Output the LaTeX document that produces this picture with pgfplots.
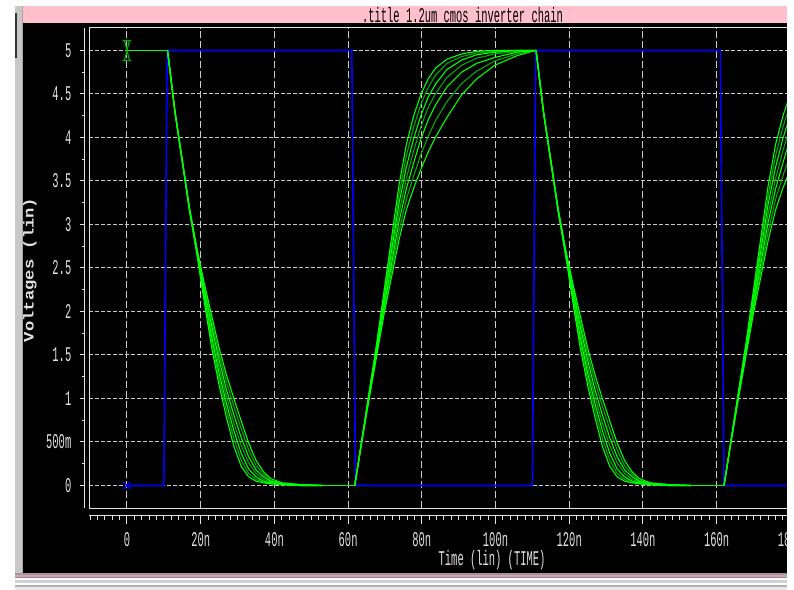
\documentclass[border=0pt]{standalone}
\usepackage{pgfplots}
\pgfplotsset{compat=1.18}
\usepackage{pgfplotstable}
\usepackage{graphicx}
\usepackage{fontspec}
\setmainfont{Liberation Mono}
\newfontfamily\wavefont{Liberation Mono}

\definecolor{pinkbar}{RGB}{255,192,203}
\definecolor{pinkline}{RGB}{225,160,170}
\definecolor{gridgray}{RGB}{200,200,200}
\definecolor{axgray}{RGB}{225,225,225}
\definecolor{trblue}{RGB}{0,0,255}
\definecolor{trgreen}{RGB}{0,255,0}
\definecolor{trgreendk}{RGB}{0,170,0}
\definecolor{frame}{RGB}{200,200,200}

% narrow viewer font
\newcommand\nt[1]{\scalebox{0.5}[1]{\fontsize{21}{21}\selectfont\wavefont #1}}
\newcommand\yt[1]{\scalebox{1.19}[1]{\fontsize{14.5}{14.5}\selectfont\wavefont\bfseries #1}}

\pgfdeclareplotmark{hourglass}{%
  \pgfpathmoveto{\pgfqpoint{-4.5bp}{10bp}}\pgfpathlineto{\pgfqpoint{4.5bp}{10bp}}%
  \pgfpathmoveto{\pgfqpoint{-4.5bp}{-10bp}}\pgfpathlineto{\pgfqpoint{4.5bp}{-10bp}}%
  \pgfpathmoveto{\pgfqpoint{-2.5bp}{10bp}}\pgfpathlineto{\pgfqpoint{2.5bp}{-10bp}}%
  \pgfpathmoveto{\pgfqpoint{2.5bp}{10bp}}\pgfpathlineto{\pgfqpoint{-2.5bp}{-10bp}}%
  \pgfusepathqstroke}

% falling edges of the chain outputs, time measured from the start of the edge (ns)
\pgfplotstableread{
dt F1 F2 F3 F4 F5 F6 F7
0  5 5 5 5 5 5 5
1  4.65 4.65 4.65 4.65 4.65 4.65 4.65
2  4.30 4.30 4.30 4.30 4.30 4.30 4.30
4  3.72 3.72 3.73 3.73 3.73 3.74 3.74
6  3.15 3.15 3.16 3.16 3.17 3.17 3.18
8  2.65 2.66 2.67 2.68 2.69 2.71 2.72
10 2.10 2.14 2.17 2.21 2.25 2.28 2.32
12 1.58 1.64 1.70 1.77 1.83 1.89 1.95
14 1.15 1.22 1.29 1.36 1.44 1.51 1.58
16 0.78 0.86 0.94 1.02 1.10 1.19 1.27
18 0.45 0.54 0.63 0.72 0.81 0.91 1.00
20 0.22 0.29 0.37 0.46 0.55 0.65 0.74
22 0.10 0.14 0.19 0.26 0.33 0.41 0.49
24 0.05 0.07 0.10 0.14 0.18 0.23 0.29
26 0.03 0.04 0.05 0.07 0.10 0.13 0.16
28 0.02 0.02 0.03 0.04 0.05 0.06 0.08
31 0.01 0.01 0.01 0.02 0.02 0.03 0.03
36 0 0 0 0.01 0.01 0.01 0.01
42 0 0 0 0 0 0 0
}\falltab

% rising edges
\pgfplotstableread{
dt R1 R2 R3 R4 R5 R6 R7
0  0 0 0 0 0 0 0
2  0.55 0.55 0.54 0.54 0.53 0.53 0.52
4  1.10 1.09 1.08 1.06 1.05 1.03 1.02
6  1.65 1.62 1.59 1.57 1.55 1.52 1.50
8  2.25 2.20 2.15 2.10 2.06 2.02 1.98
10 2.85 2.78 2.70 2.62 2.55 2.47 2.40
12 3.45 3.34 3.24 3.13 3.03 2.92 2.82
14 3.92 3.79 3.66 3.53 3.41 3.29 3.17
16 4.25 4.12 3.99 3.85 3.71 3.56 3.42
18 4.50 4.39 4.26 4.13 3.99 3.81 3.64
20 4.68 4.58 4.47 4.35 4.21 4.02 3.84
22 4.80 4.72 4.62 4.51 4.38 4.20 4.01
25 4.90 4.85 4.78 4.69 4.58 4.41 4.23
29 4.96 4.93 4.89 4.83 4.75 4.62 4.49
33 4.99 4.97 4.95 4.91 4.85 4.76 4.67
38 5 4.99 4.98 4.96 4.92 4.88 4.83
44 5 5 5 4.99 4.98 4.96 4.94
49 5 5 5 5 5 5 5
}\risetab

\begin{document}
\begin{tikzpicture}[x=1bp,y=1bp]
\useasboundingbox (0,0) rectangle (794,590);
% window frame
\fill[white] (0,0) rectangle (794,590);
\fill[frame] (15,16.5) rectangle (23.3,584);
\fill[black!35] (21.6,16.5) rectangle (23.3,584);
\fill[black!80] (15,532) rectangle (16.7,577);
\fill[black] (23.3,16.5) rectangle (786.7,566.7);
\fill[pinkbar] (23.3,566.7) rectangle (786.7,584);
\fill[black!40] (15,14.7) rectangle (786.7,16.5);
\fill[pinkline] (15,12.7) rectangle (786.7,14.7);
\fill[black!45] (15,11.7) rectangle (786.7,12.7);
\fill[black!18] (15,7) rectangle (786.7,10);
\fill[black!30] (15,3) rectangle (786.7,4.5);
\fill[black!8] (15,0) rectangle (786.7,3);

% plot area with grid and traces
\begin{axis}[
  at={(89bp,81.7bp)}, anchor=south west,
  scale only axis, width=708.7bp, height=480.6bp,
  xmin=-10.31, xmax=182, ymin=-0.262, ymax=5.262,
  axis line style={axgray, line width=1bp},
  xtick={0,20,...,180}, ytick={0,0.5,...,5},
  xticklabels={}, yticklabels={},
  major tick length=0pt,
  grid=major,
  x grid style={gridgray, line width=1bp, dash pattern=on 7bp off 3bp},
  y grid style={gridgray, line width=1bp, dash pattern=on 4bp off 2bp},
]
\addplot[trblue, line width=1.6bp] coordinates {
  (0,0) (10,0) (10.9,5) (61,5) (62,0) (110,0) (110.9,5) (161,5) (162,0) (185,0)};
\addplot[trgreen, line width=1.2bp] coordinates {(0,5) (11,5)};
\addplot[trgreen, line width=1.2bp] coordinates {(53,0) (61.8,0)};
\addplot[trgreen, line width=1.2bp] coordinates {(153,0) (162,0)};
\pgfplotsinvokeforeach{2,4,6}{
  \addplot[trgreendk, line width=1.1bp] table[x expr=\thisrow{dt}+11, y=F#1] {\falltab};
  \addplot[trgreendk, line width=1.1bp] table[x expr=\thisrow{dt}+111, y=F#1] {\falltab};
  \addplot[trgreendk, line width=1.1bp] table[x expr=\thisrow{dt}+61.8, y=R#1] {\risetab};
  \addplot[trgreendk, line width=1.1bp] table[x expr=\thisrow{dt}+162, y=R#1] {\risetab};
}
\pgfplotsinvokeforeach{1,3,5,7}{
  \addplot[trgreen, line width=1.1bp] table[x expr=\thisrow{dt}+11, y=F#1] {\falltab};
  \addplot[trgreen, line width=1.1bp] table[x expr=\thisrow{dt}+111, y=F#1] {\falltab};
  \addplot[trgreen, line width=1.1bp] table[x expr=\thisrow{dt}+61.8, y=R#1] {\risetab};
  \addplot[trgreen, line width=1.1bp] table[x expr=\thisrow{dt}+162, y=R#1] {\risetab};
}
\addplot[only marks, mark=hourglass, trgreendk, line width=1.2bp] coordinates {(0,5)};
\addplot[only marks, mark=x, mark size=5bp, trblue, line width=1.2bp] coordinates {(0,0)};
\end{axis}

% voltage ruler
\begin{axis}[
  at={(84.5bp,81.7bp)}, anchor=south west,
  scale only axis, width=708.7bp, height=480.6bp,
  xmin=-10.31, xmax=182, ymin=-0.262, ymax=5.262,
  axis x line=none, axis y line=left,
  axis line style={axgray, line width=1bp, -},
  xtick=\empty,
  ytick={0,0.5,...,5},
  minor ytick={0.25,0.75,...,4.75},
  yticklabels={\nt{0},\nt{500m},\nt{1},\nt{1.5},\nt{2},\nt{2.5},\nt{3},\nt{3.5},\nt{4},\nt{4.5},\nt{5}},
  tick align=outside, major tick length=5bp, minor tick length=3bp,
  every tick/.style={axgray, line width=1bp},
  yticklabel style={anchor=east, inner sep=0pt, xshift=-8bp, text=axgray},
  ylabel={\yt{Voltages (lin)}},
  ylabel style={at={(axis description cs:-0.0769,0.496)}, anchor=center, text=axgray},
]
\end{axis}

% time ruler
\begin{axis}[
  at={(89bp,74.3bp)}, anchor=south west,
  scale only axis, width=708.7bp, height=480.6bp,
  xmin=-10.31, xmax=182, ymin=-0.262, ymax=5.262,
  axis y line=none, axis x line=bottom,
  axis line style={axgray, line width=1bp, -},
  ytick=\empty,
  xtick={0,20,...,180},
  minor xtick={-10,-8,...,182},
  xticklabels={\nt{0},\nt{20n},\nt{40n},\nt{60n},\nt{80n},\nt{100n},\nt{120n},\nt{140n},\nt{160n},\nt{180n}},
  tick align=outside, major tick length=8bp, minor tick length=4bp,
  every tick/.style={axgray, line width=1bp},
  xticklabel style={anchor=north, inner sep=0pt, yshift=-9bp, text=axgray},
  xlabel={\nt{Time (lin) (TIME)}},
  xlabel style={at={(axis description cs:0.5687,-0.0932)}, anchor=center, text=axgray},
]
\end{axis}

% title bar text
\node[anchor=center, text=black, inner sep=0pt] at (462.5,575.2) {\nt{.title 1.2um cmos inverter chain}};
% window edge
\fill[white] (786.7,0) rectangle (794,590);
\end{tikzpicture}
\end{document}
